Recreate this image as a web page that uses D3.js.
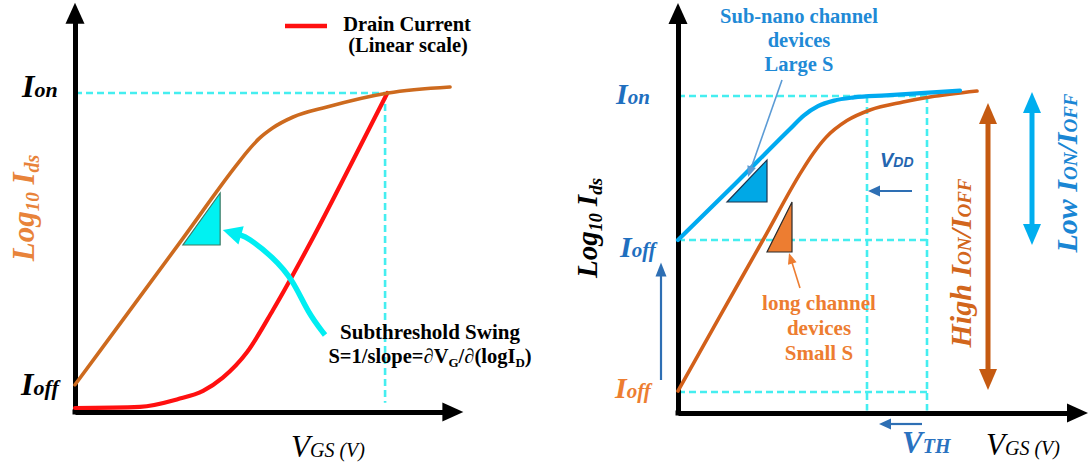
<!DOCTYPE html>
<html><head><meta charset="utf-8">
<script src="https://cdn.jsdelivr.net/npm/d3@7"></script>
<style>html,body{margin:0;padding:0;background:#fff;}svg{display:block;}</style>
</head><body>
<svg id="c" width="1090" height="470"></svg>
<script>
// ---------- data (normalised 0-100 units on both axes) ----------
// Left panel
const leftLogCurve = [[0,6.8],[14.2,25.1],[28.4,43.4],[42.5,61.7],[45.6,65.4],[48.5,68.4],[52,71],[57.4,73.75],[66.3,76.25],[82.4,79.75],[98.7,81.25]];
const leftLinCurve = [[0,1],[17.1,1.3],[27,3.2],[33.7,5.3],[38.9,8.6],[45.3,15],[52.1,25.5],[62.6,43.5],[72.4,61.5],[82.2,79.75]];
const leftSwingTri = [[28.4,41.75],[38.2,41.75],[38.2,54.75]];
const leftSwingArrow = [[65.8,19.25],[61.3,24.75],[57.4,33],[52.1,38.75],[45.3,43.75],[38.9,45.5]];
const leftIon = 79.75, leftVdd = 81.6;
// Right panel
const rightLongCurve = [[0,5.5],[10.6,24.4],[21.25,43.25],[31,60.6],[33.75,64.8],[37,68.9],[42.25,73.1],[48,75.75],[56.25,77.75],[63,79],[74.75,80.5]];
const rightNanoCurve = [[0,43.25],[14,57],[28,71],[31.5,74.4],[35,76.7],[39,78.1],[44,78.9],[52,79.4],[70.5,80.6]];
const rightBlueTri = [[12.25,52.75],[22.25,52.75],[22.25,63.25]];
const rightOrangeTri = [[22.25,40.25],[28.5,40.25],[28.5,52.75]];
const rightIon = 79.25, rightIoffNano = 43.25, rightIoffLong = 5.25;
const rightVth = 47.25, rightVdd = 62.25;
const largeSArrow = [[26,83.25],[17.5,59]];
const smallSArrow = [[30.5,31.25],[27.75,40]];
const vddArrow = [[58.5,55.5],[47.5,55.5]];
const vthArrow = [[61,-2.75],[50.25,-2.75]];
const ioffArrow = [[-4.25,8.25],[-4.25,37.6]];
const highRatioArrow = [[77.5,77.5],[77.5,5.75]];
const lowRatioArrow = [[88.5,80.25],[88.5,42]];

const legendLabel = ["Drain Current","(Linear scale)"];
const swingLabel = "Subthreshold Swing";
const nanoLabel = ["Sub-nano channel","devices","Large S"];
const longLabel = ["long channel","devices","Small S"];

// ---------- setup ----------
const svg = d3.select("#c");
const SERIF = "'Liberation Serif','Times New Roman',serif";
const SANS = "'Liberation Sans',Arial,sans-serif";
const xL = d3.scaleLinear().domain([0,100]).range([75,455]);
const yL = d3.scaleLinear().domain([0,100]).range([412,12]);
const xR = d3.scaleLinear().domain([0,100]).range([678,1078]);
const yR = d3.scaleLinear().domain([0,100]).range([413,13]);

const CYAN_D = "#45eef0";
function dashed(g, x, y, pts){
  g.append("path").attr("d", d3.line().x(d=>x(d[0])).y(d=>y(d[1]))(pts))
   .attr("fill","none").attr("stroke",CYAN_D).attr("stroke-width",2.6).attr("stroke-dasharray","7,4");
}
function curve(g, x, y, pts, color, w, c){
  g.append("path").attr("d", d3.line().x(d=>x(d[0])).y(d=>y(d[1])).curve(c||d3.curveMonotoneX)(pts))
   .attr("fill","none").attr("stroke",color).attr("stroke-width",w).attr("stroke-linecap","round");
}
function tri(g, x, y, pts, fill, stroke){
  g.append("path").attr("d", d3.line().x(d=>x(d[0])).y(d=>y(d[1]))(pts)+"Z")
   .attr("fill",fill).attr("stroke",stroke).attr("stroke-width",1.2);
}
function head(g, tip, from, len, wid, color){
  const dx=tip[0]-from[0], dy=tip[1]-from[1], L=Math.hypot(dx,dy), ux=dx/L, uy=dy/L;
  const bx=tip[0]-ux*len, by=tip[1]-uy*len;
  g.append("path").attr("d",`M${tip[0]},${tip[1]}L${bx-uy*wid/2},${by+ux*wid/2}L${bx+uy*wid/2},${by-ux*wid/2}Z`).attr("fill",color);
  return [bx+ux*1,by+uy*1];
}
function arrow(g, x, y, pts, color, w, len, wid, both){
  let p = pts.map(d=>[x(d[0]),y(d[1])]);
  const n=p.length;
  const e = head(g, p[n-1], p[n-2], len, wid, color);
  p[n-1]=e;
  if(both){ const s=head(g, p[0], p[1], len, wid, color); p[0]=s; }
  g.append("path").attr("d", d3.line().curve(d3.curveBasis)(p)).attr("fill","none")
   .attr("stroke",color).attr("stroke-width",w);
}
function axes(g, x, y, xmax, ymax){
  g.append("g").attr("transform",`translate(0,${y(0)})`)
   .call(d3.axisBottom(x).tickValues([]).tickSizeOuter(0))
   .select(".domain").attr("stroke","#000").attr("stroke-width",5);
  g.append("g").attr("transform",`translate(${x(0)},0)`)
   .call(d3.axisLeft(y).tickValues([]).tickSizeOuter(0))
   .select(".domain").attr("stroke","#000").attr("stroke-width",5);
  g.append("line").attr("x1",x(0)-2.5).attr("x2",x(0)+2).attr("y1",y(0)).attr("y2",y(0)).attr("stroke","#000").attr("stroke-width",5);
  head(g,[x(xmax),y(0)],[x(0),y(0)],21,19,"#000");
  head(g,[x(0),y(ymax)],[x(0),y(0)],21,19,"#000");
}
function rich(g, px, py, parts, o){
  const t = g.append("text").attr("transform",`translate(${px},${py}) rotate(${o.rot||0})`)
   .attr("text-anchor",o.anchor||"start").attr("font-family",o.family||SERIF)
   .attr("font-weight",o.weight||"bold").attr("font-style",o.style||"normal").attr("fill",o.fill||"#000");
  parts.forEach(p=>t.append("tspan").text(p.t).attr("font-size",p.s).attr("dy",p.dy||0));
  return t;
}

// ---------- LEFT PANEL ----------
const L = svg.append("g");
dashed(L,xL,yL,[[0,leftIon],[leftVdd,leftIon]]);
dashed(L,xL,yL,[[leftVdd,leftIon],[leftVdd,2.3]]);
axes(L,xL,yL,102.2,102.3);
curve(L,xL,yL,leftLinCurve,"#ff1010",4.2);
curve(L,xL,yL,leftLogCurve,"#cd6a1e",3.6);
tri(L,xL,yL,leftSwingTri,"#00f2f2","#3d7a63");
arrow(L,xL,yL,leftSwingArrow,"#00eef2",5.5,19,19,false);
// legend
L.append("line").attr("x1",285).attr("x2",327).attr("y1",26).attr("y2",26).attr("stroke","#ff1010").attr("stroke-width",4.5);
rich(L,407,31,[{t:legendLabel[0],s:20.5}],{anchor:"middle"});
rich(L,408,52,[{t:legendLabel[1],s:20.5}],{anchor:"middle"});
rich(L,430,339,[{t:swingLabel,s:21}],{anchor:"middle"});
rich(L,430,363,[{t:"S=1/slope=∂V",s:20.5},{t:"G",s:13,dy:4},{t:"/∂(logI",s:20.5,dy:-4},{t:"D",s:13,dy:4},{t:")",s:20.5,dy:-4}],{anchor:"middle"});
rich(L,22,97,[{t:"I",s:32},{t:"on",s:22}],{style:"italic"});
rich(L,21,395,[{t:"I",s:32},{t:"off",s:22}],{style:"italic"});
rich(L,34,208,[{t:"Log",s:31},{t:"10",s:19,dy:5},{t:" I",s:31,dy:-5},{t:"ds",s:20,dy:5}],{anchor:"middle",rot:-90,style:"italic",fill:"#e8833a"});
rich(L,291,457,[{t:"V",s:31},{t:"GS (V)",s:20}],{style:"italic",weight:"normal"});

// ---------- RIGHT PANEL ----------
const R = svg.append("g");
dashed(R,xR,yR,[[0,rightIon],[rightVdd,rightIon]]);
dashed(R,xR,yR,[[0,rightIoffNano],[rightVdd,rightIoffNano]]);
dashed(R,xR,yR,[[0,rightIoffLong],[rightVdd,rightIoffLong]]);
dashed(R,xR,yR,[[rightVth,rightIon],[rightVth,0.6]]);
dashed(R,xR,yR,[[rightVdd,rightIon],[rightVdd,0.6]]);
axes(R,xR,yR,102.5,102.5);
curve(R,xR,yR,rightLongCurve,"#d2601a",3.6);
curve(R,xR,yR,rightNanoCurve,"#00aaf0",4.2);
tri(R,xR,yR,rightBlueTri,"#00a8e6","#1b3550");
tri(R,xR,yR,rightOrangeTri,"#ed7d31","#2b2b2b");
arrow(R,xR,yR,largeSArrow,"#5b9bd5",1.6,11,9,false);
arrow(R,xR,yR,smallSArrow,"#ed7d31",1.6,11,9,false);
arrow(R,xR,yR,vddArrow,"#2e6fb4",2.2,12,11,false);
arrow(R,xR,yR,vthArrow,"#2e6fb4",2.2,12,11,false);
arrow(R,xR,yR,ioffArrow,"#2e6fb4",2.2,14,11,false);
arrow(R,xR,yR,highRatioArrow,"#c55a11",5,21,18,true);
arrow(R,xR,yR,lowRatioArrow,"#00aeef",5,21,18,true);

const NANO="#1f8ad6", LONG="#ed7d31";
nanoLabel.forEach((s,i)=>rich(R,799,[23,47,71][i],[{t:s,s:20.5}],{anchor:"middle",fill:NANO}));
longLabel.forEach((s,i)=>rich(R,819,[310,335,360][i],[{t:s,s:21}],{anchor:"middle",fill:LONG}));
rich(R,616,104,[{t:"I",s:30},{t:"on",s:21}],{style:"italic",fill:"#1f6fbf"});
rich(R,620,257,[{t:"I",s:30},{t:"off",s:21}],{style:"italic",fill:"#1f6fbf"});
rich(R,615,398,[{t:"I",s:30},{t:"off",s:21}],{style:"italic",fill:LONG});
rich(R,880,167,[{t:"V",s:20},{t:"DD",s:14}],{family:SANS,style:"italic",fill:"#2466b0"});
rich(R,902,453,[{t:"V",s:31},{t:"TH",s:20}],{style:"italic",fill:"#2a72c0"});
rich(R,986,455,[{t:"V",s:31},{t:"GS (V)",s:20}],{style:"italic",weight:"normal"});
rich(R,597,228,[{t:"Log",s:29},{t:"10",s:18,dy:5},{t:" I",s:29,dy:-5},{t:"ds",s:19,dy:5}],{anchor:"middle",rot:-90,style:"italic"});
rich(R,971,263,[{t:"High I",s:30},{t:"ON",s:19},{t:"/I",s:30},{t:"OFF",s:19}],{anchor:"middle",rot:-90,style:"italic",fill:"#d2661c"});
rich(R,1077,173,[{t:"Low I",s:30},{t:"ON",s:19},{t:"/I",s:30},{t:"OFF",s:19}],{anchor:"middle",rot:-90,style:"italic",fill:"#1a86d4"});
</script>
</body></html>
